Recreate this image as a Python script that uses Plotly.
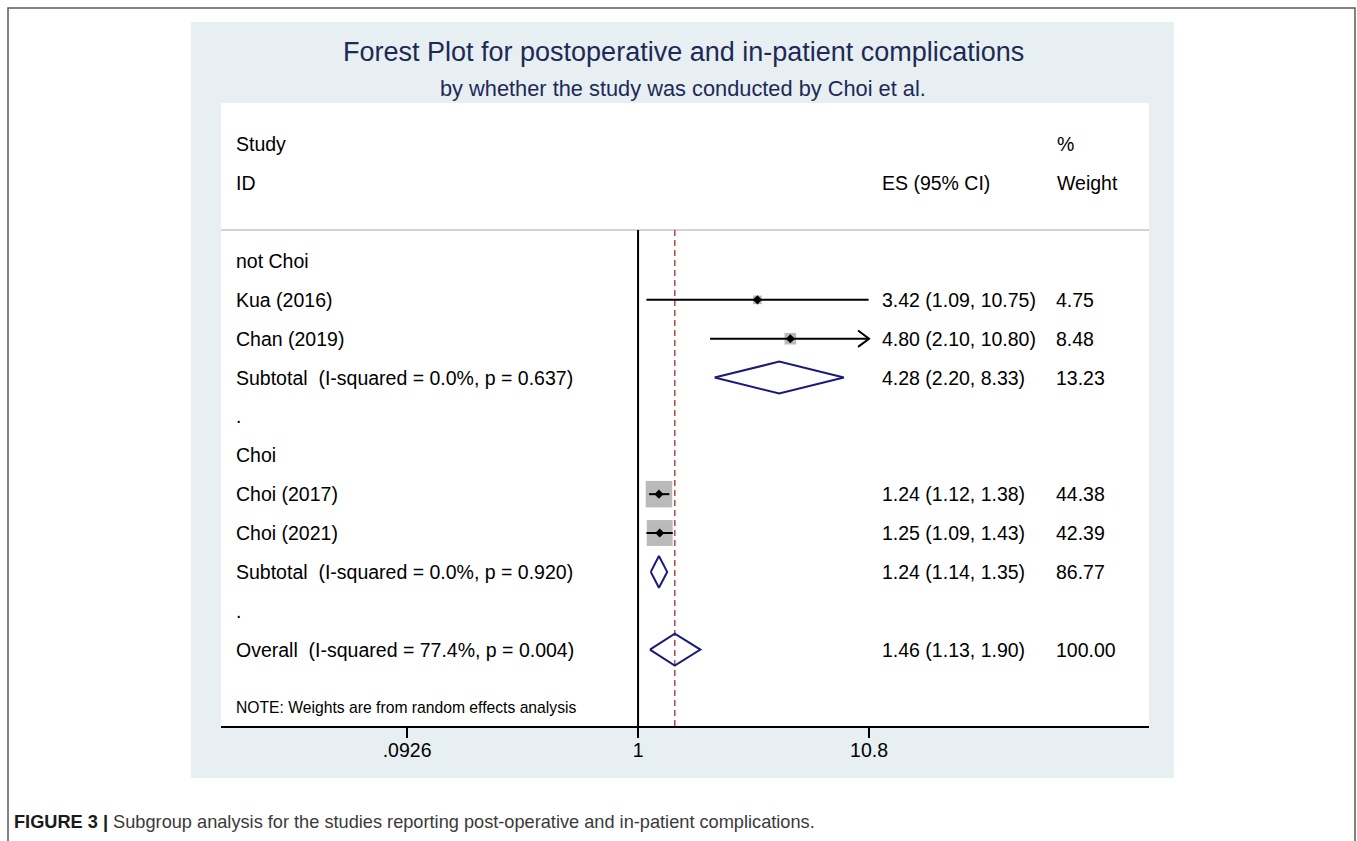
import math
import plotly.graph_objects as go

# ---------------- data ----------------
group_names = ["not Choi", "Choi"]
study_labels = ["Kua (2016)", "Chan (2019)", "Choi (2017)", "Choi (2021)"]
study_group = [0, 0, 1, 1]
study_es = [3.42, 4.80, 1.24, 1.25]
study_lo = [1.09, 2.10, 1.12, 1.09]
study_hi = [10.75, 10.80, 1.38, 1.43]
study_wt = [4.75, 8.48, 44.38, 42.39]

sub_labels = ["Subtotal  (I-squared = 0.0%, p = 0.637)",
              "Subtotal  (I-squared = 0.0%, p = 0.920)"]
sub_es = [4.28, 1.24]
sub_lo = [2.20, 1.14]
sub_hi = [8.33, 1.35]
sub_wt = [13.23, 86.77]

overall_label = "Overall  (I-squared = 77.4%, p = 0.004)"
overall_es = 1.46
overall_lo = 1.13
overall_hi = 1.90
overall_wt = 100.00

tick_vals = [0.0926, 1, 10.8]
tick_text = [".0926", "1", "10.8"]

title_text = "Forest Plot for postoperative and in-patient complications"
subtitle_text = "by whether the study was conducted by Choi et al."
note_text = "NOTE: Weights are from random effects analysis"
caption_bold = "FIGURE 3 |"
caption_text = "Subgroup analysis for the studies reporting post-operative and in-patient complications."

# ---------------- layout helpers ----------------
W, H = 1357, 841
FONT = "Liberation Sans, Arial, Helvetica, sans-serif"
NAVY = "#1a1a78"
TITLE_C = "#1c2a56"


def px(x):
    return x / W


def py(y):
    return 1 - y / H


def nb(s):
    return s.replace("  ", "\u00a0 ")


# build rows: (kind, label, es, lo, hi, wt)
rows = []
for g, gname in enumerate(group_names):
    rows.append(("head", gname, None, None, None, None))
    for i in range(len(study_labels)):
        if study_group[i] == g:
            rows.append(("study", study_labels[i], study_es[i], study_lo[i], study_hi[i], study_wt[i]))
    rows.append(("sub", sub_labels[g], sub_es[g], sub_lo[g], sub_hi[g], sub_wt[g]))
    rows.append(("blank", ".", None, None, None, None))
rows.append(("sub", overall_label, overall_es, overall_lo, overall_hi, overall_wt))

Y_TOP, Y_BOT = -4.066, 11.966
x_range = [-1.866, 2.286]
x_max = max(tick_vals)

fig = go.Figure()

# vertical reference lines
fig.add_trace(go.Scatter(x=[1, 1], y=[-0.8, Y_BOT], mode="lines",
                         line=dict(color="black", width=2), hoverinfo="skip", showlegend=False))
fig.add_trace(go.Scatter(x=[overall_es, overall_es], y=[-0.8, Y_BOT], mode="lines",
                         line=dict(color="#b04848", width=1.5, dash="6px,4px"),
                         hoverinfo="skip", showlegend=False))

annotations = []
max_w = max(study_wt)
for r, (kind, label, es, lo, hi, wt) in enumerate(rows):
    annotations.append(dict(x=px(234), xref="paper", y=r, yref="y", text=nb(label),
                            xanchor="left", yanchor="middle", showarrow=False,
                            font=dict(family=FONT, size=19.5, color="black")))
    if kind == "study":
        side = 26.5 * math.sqrt(wt / max_w)
        fig.add_trace(go.Scatter(x=[es], y=[r], mode="markers",
                                 marker=dict(symbol="square", size=side, color="#bababa",
                                             line=dict(width=0)),
                                 hoverinfo="skip", showlegend=False))
        hi_d = min(hi, x_max)
        fig.add_trace(go.Scatter(x=[lo, hi_d], y=[r, r], mode="lines",
                                 line=dict(color="black", width=2), hoverinfo="skip", showlegend=False))
        if hi >= x_max:
            f = 10 ** (-11 / 223.5)
            fig.add_trace(go.Scatter(x=[hi_d * f, hi_d, hi_d * f], y=[r - 0.21, r, r + 0.21],
                                     mode="lines", line=dict(color="black", width=2),
                                     hoverinfo="skip", showlegend=False))
        fig.add_trace(go.Scatter(x=[es], y=[r], mode="markers",
                                 marker=dict(symbol="diamond", size=7, color="black"),
                                 hoverinfo="skip", showlegend=False))
    if kind == "sub":
        h = 0.41
        fig.add_trace(go.Scatter(x=[lo, es, hi, es, lo], y=[r, r - h, r, r + h, r],
                                 mode="lines", line=dict(color=NAVY, width=2),
                                 hoverinfo="skip", showlegend=False))
    if es is not None:
        annotations.append(dict(x=px(880), xref="paper", y=r, yref="y",
                                text=f"{es:.2f} ({lo:.2f}, {hi:.2f})",
                                xanchor="left", yanchor="middle", showarrow=False,
                                font=dict(family=FONT, size=19.5, color="black")))
        annotations.append(dict(x=px(1054), xref="paper", y=r, yref="y",
                                text=f"{wt:.2f}",
                                xanchor="left", yanchor="middle", showarrow=False,
                                font=dict(family=FONT, size=19.5, color="black")))

# header texts
for txt, xx, yy in [("Study", 234, -3.01), ("ID", 234, -2.0), ("ES (95% CI)", 880, -2.0),
                    ("%", 1055, -3.01), ("Weight", 1055, -2.0)]:
    annotations.append(dict(x=px(xx), xref="paper", y=yy, yref="y", text=txt,
                            xanchor="left", yanchor="middle", showarrow=False,
                            font=dict(family=FONT, size=19.5, color="black")))
annotations.append(dict(x=px(234), xref="paper", y=11.48, yref="y", text=note_text,
                        xanchor="left", yanchor="middle", showarrow=False,
                        font=dict(family=FONT, size=15.7, color="black")))

# titles
annotations.append(dict(x=px(683), xref="paper", y=py(52), yref="paper", text=title_text,
                        xanchor="center", yanchor="middle", showarrow=False,
                        font=dict(family=FONT, size=27, color=TITLE_C)))
annotations.append(dict(x=px(683), xref="paper", y=py(88), yref="paper", text=subtitle_text,
                        xanchor="center", yanchor="middle", showarrow=False,
                        font=dict(family=FONT, size=21.8, color=TITLE_C)))
# caption
annotations.append(dict(x=px(12), xref="paper", y=py(822), yref="paper",
                        text=f"<b>{caption_bold}</b> <span style='color:#3a3a3a'>{caption_text}</span>",
                        xanchor="left", yanchor="middle", showarrow=False,
                        font=dict(family=FONT, size=18.2, color="#1a1a1a")))

shapes = [
    dict(type="rect", xref="paper", yref="paper", x0=px(8), x1=px(1355), y0=py(860), y1=py(8),
         line=dict(color="#5a5a5a", width=1.5), fillcolor="white", layer="below"),
    dict(type="rect", xref="paper", yref="paper", x0=px(191), x1=px(1174), y0=py(778), y1=py(22),
         line=dict(width=0), fillcolor="#e8eff2", layer="below"),
    dict(type="rect", xref="paper", yref="paper", x0=px(221), x1=px(1149), y0=py(726), y1=py(103),
         line=dict(width=0), fillcolor="white", layer="below"),
    dict(type="line", xref="paper", yref="paper", x0=px(221), x1=px(1149), y0=py(230), y1=py(230),
         line=dict(color="#c4c4c4", width=1.5), layer="below"),
]

fig.update_layout(
    width=W, height=H,
    margin=dict(l=0, r=0, t=0, b=0),
    paper_bgcolor="white",
    plot_bgcolor="rgba(0,0,0,0)",
    showlegend=False,
    shapes=shapes,
    annotations=annotations,
    xaxis=dict(type="log", range=x_range, domain=[px(221), px(1149)],
               tickvals=tick_vals, ticktext=tick_text, ticks="outside", ticklen=10,
               tickwidth=1.5, tickcolor="black", showline=True, linecolor="black",
               linewidth=1.5, showgrid=False, zeroline=False, ticklabelstandoff=-4,
               tickfont=dict(family=FONT, size=19.5, color="black")),
    yaxis=dict(range=[Y_BOT, Y_TOP], domain=[1 - 726 / H, 1 - 103 / H],
               visible=False, showgrid=False, zeroline=False),
)

fig.write_html("out.html", config={"displayModeBar": False},
               post_script="document.body.style.margin='0px';document.body.style.overflow='hidden';")
